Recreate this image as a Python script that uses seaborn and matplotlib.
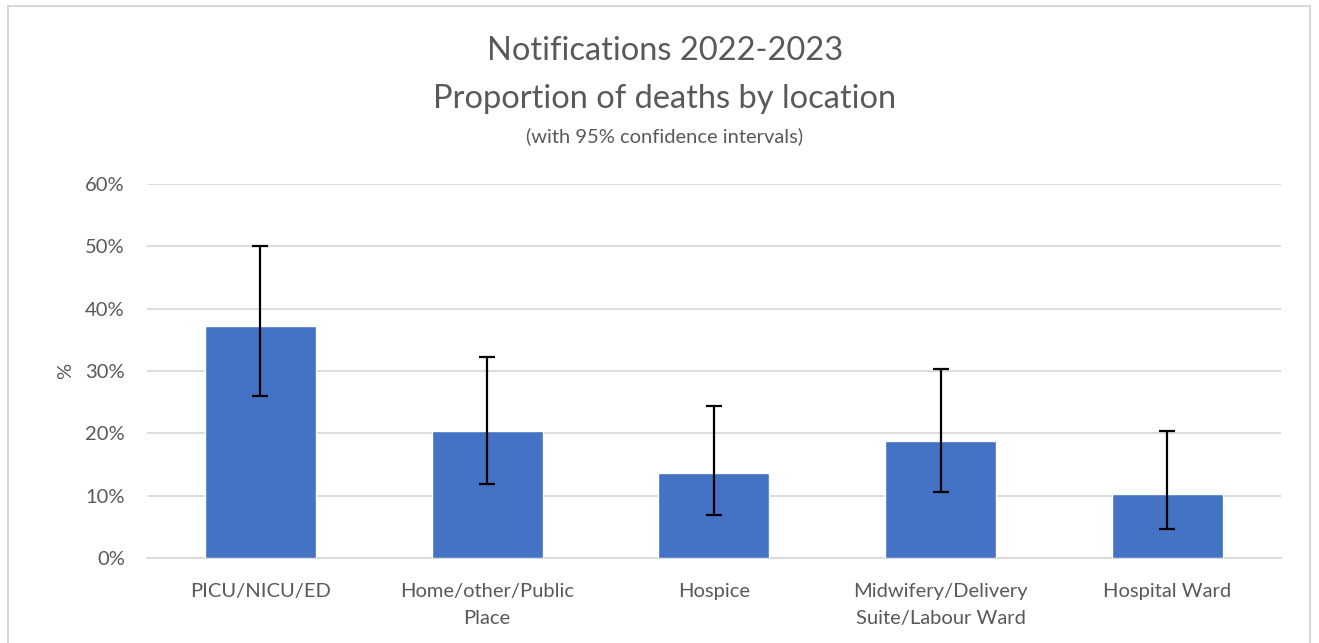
import matplotlib
matplotlib.use("Agg")
import matplotlib.pyplot as plt
import matplotlib.patches as mpatches
from matplotlib.ticker import PercentFormatter
import seaborn as sns
import pandas as pd

# values (percent)
locations = ["PICU/NICU/ED", "Home/other/Public\nPlace", "Hospice",
             "Midwifery/Delivery\nSuite/Labour Ward", "Hospital Ward"]
proportion = [37.3, 20.3, 13.6, 18.7, 10.2]
ci_lower = [26.0, 11.9, 6.9, 10.6, 4.7]
ci_upper = [50.0, 32.2, 24.4, 30.3, 20.4]
y_ticks = [0, 10, 20, 30, 40, 50, 60]

grey = "#595959"

sns.set_theme(style="white")
plt.rcParams["font.family"] = ["Lato", "DejaVu Sans"]

df = pd.DataFrame({"location": locations, "pct": proportion})

fig = plt.figure(figsize=(13.19, 6.43), dpi=100)
ax = fig.add_axes([0.1115, 0.1322, 0.8595, 0.5816])

sns.barplot(data=df, x="location", y="pct", color="#4472c4", width=0.49,
            saturation=1, errorbar=None, ax=ax, zorder=3)

err_lo = [p - l for p, l in zip(proportion, ci_lower)]
err_hi = [u - p for p, u in zip(proportion, ci_upper)]
ax.errorbar(range(len(locations)), proportion, yerr=[err_lo, err_hi],
            fmt="none", ecolor="black", elinewidth=1.6, capsize=6,
            capthick=1.6, zorder=4)

ax.set_ylim(0, 60)
ax.set_xlim(-0.5, len(locations) - 0.5)
ax.set_yticks(y_ticks)
ax.yaxis.set_major_formatter(PercentFormatter(decimals=0))
ax.yaxis.grid(True, color="#d9d9d9", linewidth=1.3, zorder=0)
ax.set_axisbelow(True)
for side in ["top", "right", "left"]:
    ax.spines[side].set_visible(False)
ax.spines["bottom"].set_color("#d9d9d9")
ax.spines["bottom"].set_linewidth(1.3)
ax.tick_params(axis="y", length=0, labelsize=14.5, labelcolor=grey, pad=16)
ax.tick_params(axis="x", length=0, labelsize=14.5, labelcolor=grey, pad=18)
for lbl in ax.get_xticklabels():
    lbl.set_linespacing(1.7)
ax.set_xlabel("")
ax.set_ylabel("%", fontsize=14.5, color=grey, labelpad=8)

fig.text(0.504, 0.921, "Notifications 2022-2023", ha="center", va="center",
         fontsize=23.5, color=grey)
fig.text(0.504, 0.846, "Proportion of deaths by location", ha="center",
         va="center", fontsize=23.5, color=grey)
fig.text(0.504, 0.788, "(with 95% confidence intervals)", ha="center",
         va="center", fontsize=14.5, color=grey)

# chart frame
fig.patches.append(mpatches.Rectangle((8 / 1319, -0.05), 1302 / 1319, 1.04,
                                      transform=fig.transFigure, fill=False,
                                      edgecolor="#d9d9d9", linewidth=1.5))

fig.savefig("out.png", dpi=100)
